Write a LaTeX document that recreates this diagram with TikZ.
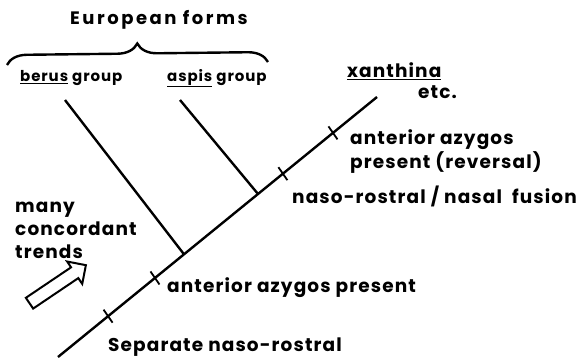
\documentclass[tikz,border=0pt]{standalone}
\usepackage{fontspec}
\setmainfont{Poppins}[LetterSpace=6]
\usetikzlibrary{calc,shapes.arrows,decorations.pathreplacing}

\begin{document}
\begin{tikzpicture}[x=1pt, y=-1pt, font=\fontsize{18.5}{24}\selectfont\bfseries,
    lbl/.style={anchor=west, inner sep=0pt},
    small/.style={font=\fontsize{15}{18}\selectfont\bfseries},
    stem/.style={line width=2.4pt}]
    \useasboundingbox (0,0) rectangle (579,362);
    % main stem and forks
    \coordinate (root) at (58,357);
    \coordinate (top)  at (377,97);
    \coordinate (berusfork) at ($(root)!0.395!(top)$);
    \coordinate (aspisfork) at ($(root)!0.627!(top)$);
    \coordinate (berustip)  at (65,100);
    \coordinate (aspistip)  at (180,100);
    \draw[stem] (root) -- (top);
    \draw[stem] (berustip) -- (berusfork);
    \draw[stem] (aspistip) -- (aspisfork);
    % character marks
    \foreach \f in {0.157,0.304,0.705,0.862}
      \draw[line width=1.8pt] ($(root)!\f!(top)+(-4.5,-6.5)$) -- ($(root)!\f!(top)+(4.5,6.5)$);
    % taxa
    \node[lbl, font=\fontsize{18}{22}\selectfont\bfseries\addfontfeature{LetterSpace=14}] (europe) at (70,20) {European forms};
    \draw[stem, decorate, decoration={brace, amplitude=20pt}] (7,65) -- (268,62);
    \node[lbl, small] (berus)    at (20,78)  {\underline{berus} group};
    \node[lbl, small] (aspis)    at (167,78) {\underline{aspis} group};
    \node[lbl] (xanthina) at (347,71) {\underline{xanthina}};
    \node[lbl] (etc)      at (418,92) {etc.};
    % characters
    \node[lbl, align=left] (reversal) at (350,152) {anterior azygos\\present (reversal)};
    \node[lbl] (fusion)   at (292,196) {naso-rostral~/~nasal~~fusion};
    \node[lbl] (azygos)   at (167,288) {anterior azygos present};
    \node[lbl] (separate) at (108,347) {Separate naso-rostral};
    % trends
    \node[lbl, align=left, font=\fontsize{18.5}{23}\selectfont\bfseries] (trends) at (15,230) {many\\concordant\\trends};
    \node[single arrow, draw, line width=2pt, minimum height=68pt, inner sep=5.5pt,
          single arrow head extend=7pt, rotate=34] (trendarrow) at (55,286) {};
\end{tikzpicture}
\end{document}
